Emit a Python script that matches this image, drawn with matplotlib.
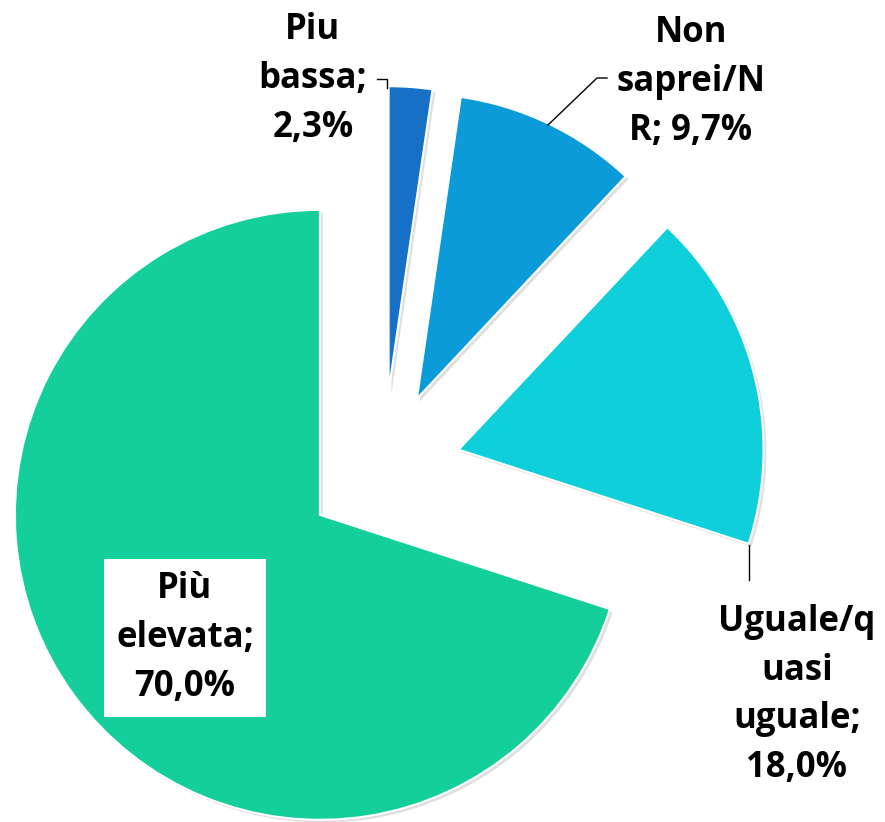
import matplotlib
matplotlib.use("Agg")
import matplotlib.pyplot as plt
import matplotlib.patheffects as pe

categories = ["Piu bassa", "Non saprei/NR", "Uguale/quasi uguale", "Più elevata"]
values = [2.3, 9.7, 18.0, 70.0]
labels = ["Piu\nbassa;\n2,3%", "Non\nsaprei/N\nR; 9,7%", "Uguale/q\nuasi\nuguale;\n18,0%", "Più\nelevata;\n70,0%"]
colors = ["#1570C6", "#0A9BD8", "#0FCFDB", "#14CF9B"]

W, H = 885, 822
fig = plt.figure(figsize=(W / 100, H / 100), dpi=100)
ax = fig.add_axes([0, 0, 1, 1])

R = 305
center = (383, H - 469)
wedges, _ = ax.pie(values, radius=R, center=center, explode=[78] * 4,
                   startangle=90, counterclock=False, colors=colors,
                   wedgeprops=dict(edgecolor="white", linewidth=1.5,
                                   path_effects=[pe.SimplePatchShadow(offset=(2, -2), alpha=0.25, shadow_rgbFace="gray"),
                                                 pe.Normal()]))
ax.set_xlim(0, W)
ax.set_ylim(0, H)
ax.set_aspect("equal")
ax.axis("off")

font = dict(family=["Open Sans", "DejaVu Sans"], fontweight="bold", fontsize=25,
            ha="center", va="center", multialignment="center", linespacing=1.48, color="black")

pos = [(313, 79), (691, 82), (797, 695), (185, 638)]
for lab, (x, y) in zip(labels, pos):
    kw = dict(font)
    if lab.startswith("Più"):
        ax.text(x, H - y, lab, **kw,
                bbox=dict(facecolor="white", edgecolor="none", boxstyle="square,pad=0.35"))
    else:
        ax.text(x, H - y, lab, **kw)

# leader lines
ax.plot([377, 387, 387], [H - 79, H - 79, H - 88], color="black", lw=1)
ax.plot([548, 597, 607], [H - 125, H - 78, H - 78], color="black", lw=1)
ax.plot([749, 749], [H - 545, H - 580], color="black", lw=1)

fig.savefig("out.png", dpi=100, facecolor="white")
